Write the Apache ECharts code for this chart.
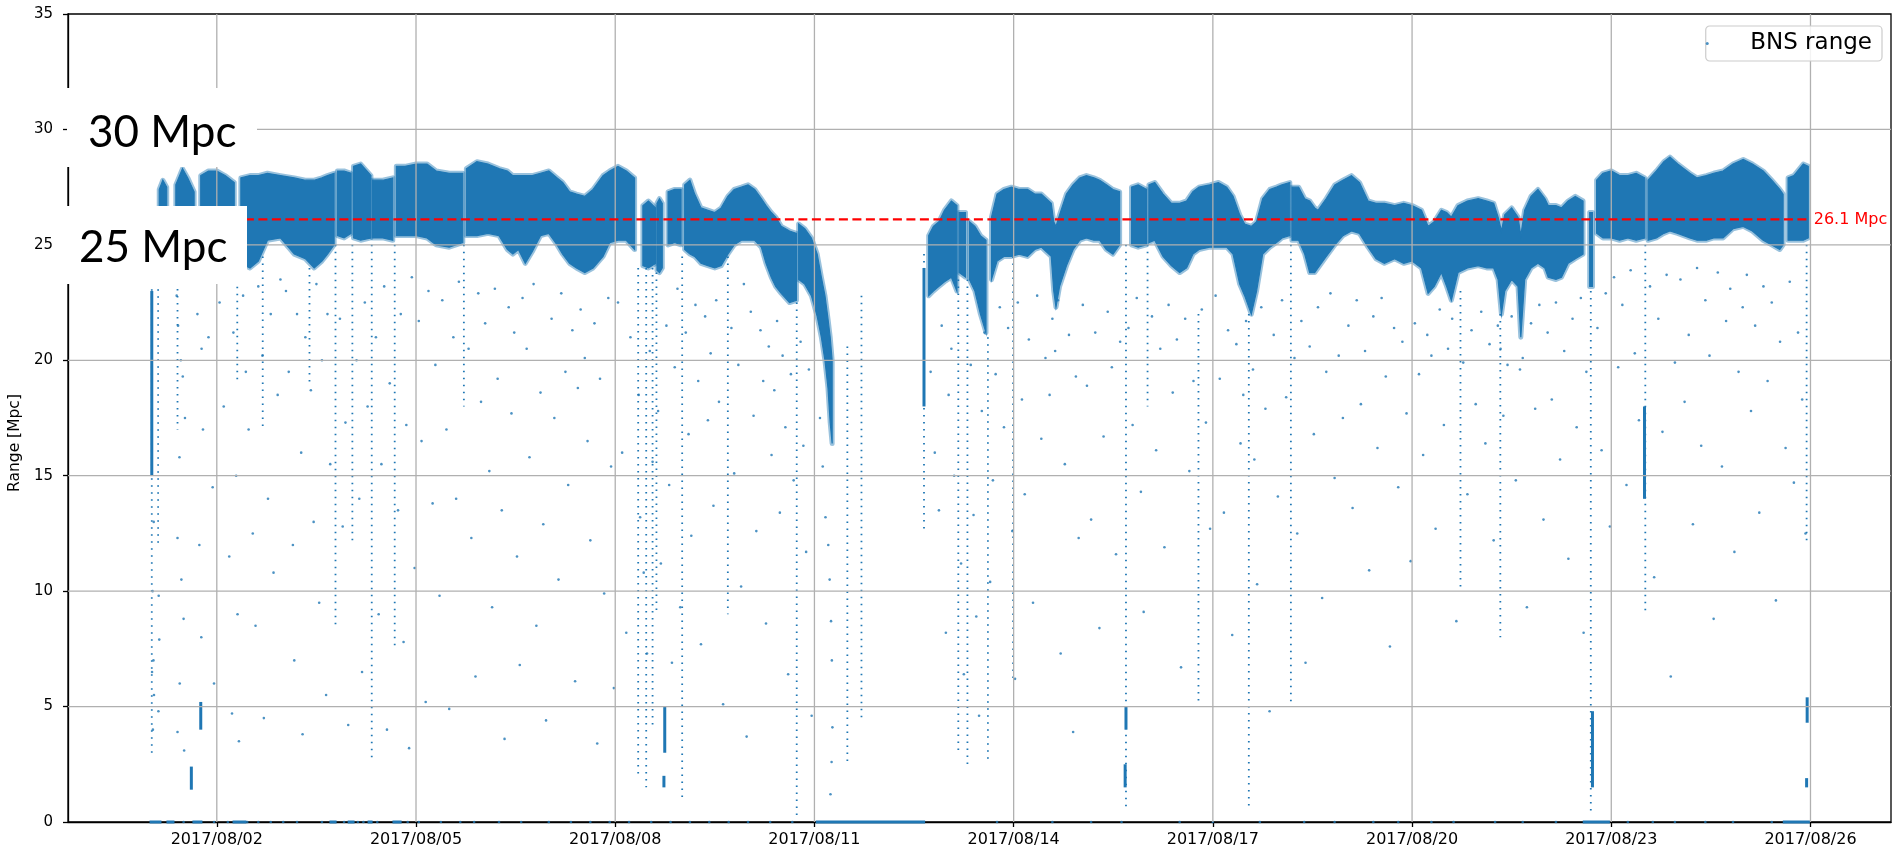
<!DOCTYPE html>
<html>
<head>
<meta charset="utf-8">
<script src="https://cdn.jsdelivr.net/npm/echarts@6/dist/echarts.min.js"></script>
<style>
  html, body { margin: 0; padding: 0; background: #fff; }
  #chart { width: 1893px; height: 848px; }
</style>
</head>
<body>
<div id="chart"></div>
<script>
// x values are hours since 2017/07/31 00:00
const xTickHours  = [48, 120, 192, 264, 336, 408, 480, 552, 624];
const xTickLabels = ['2017/08/02', '2017/08/05', '2017/08/08', '2017/08/11', '2017/08/14',
                     '2017/08/17', '2017/08/20', '2017/08/23', '2017/08/26'];
const yGridValues = [5, 10, 15, 20, 25, 30];

const MEDIAN      = 26.1;
const medianSpan  = [24, 623];

// dense part of the BNS range, per lock segment: [hour, low, high]
const bandSegments = [
  [[27.2, 26.0, 27.4], [28.5, 25.8, 27.8], [29.9, 26.0, 27.5]],
  [[33.2, 25.8, 27.6], [35.6, 25.5, 28.3], [37.5, 25.6, 27.9], [39.8, 26.0, 27.3]],
  [[42.2, 25.2, 28.0], [45, 25.0, 28.2], [48, 25.0, 28.2], [51, 25.0, 28.0], [54.3, 25.3, 27.7]],
  [[56.7, 24.2, 27.9], [60, 24.0, 28.0], [63, 24.3, 28.0], [66.3, 25.2, 28.1], [71, 25.3, 28.0], [76, 24.6, 27.9],
   [80, 24.4, 27.8], [83.2, 24.0, 27.8], [86, 24.3, 27.9], [88, 24.6, 28.0], [90.4, 25.0, 28.1]],
  [[91.6, 25.4, 28.2], [94, 25.3, 28.2], [96.5, 25.5, 28.1]],
  [[97.4, 25.3, 28.4], [100, 25.2, 28.5], [103.7, 25.3, 28.0]],
  [[104.3, 25.3, 27.8], [108, 25.3, 27.8], [111.6, 25.2, 27.9]],
  [[112.9, 25.4, 28.4], [116, 25.4, 28.4], [120.1, 25.4, 28.5], [124, 25.3, 28.5], [127.3, 25.0, 28.2],
   [132, 24.9, 28.1], [136.9, 25.1, 28.1]],
  [[138.2, 25.4, 28.3], [142, 25.4, 28.6], [146, 25.5, 28.5], [150, 25.4, 28.3], [153, 24.8, 28.2], [155, 24.6, 28.0],
   [157, 24.8, 28.0], [159.5, 24.2, 28.0], [162, 24.7, 28.0], [165, 25.4, 28.1], [168, 25.5, 28.2], [171, 25.0, 27.9],
   [173, 24.6, 27.7], [175.5, 24.2, 27.3], [178, 24.0, 27.2], [181, 23.8, 27.1], [184, 24.0, 27.4], [187.6, 24.5, 28.0],
   [190, 25.1, 28.2], [193, 25.2, 28.4], [196, 25.2, 28.2], [199, 24.8, 27.9]],
  [[202, 24.1, 26.7], [204, 24.0, 26.9], [206.6, 24.2, 26.6]],
  [[207.1, 23.9, 26.8], [208, 23.8, 27.0], [209, 24.0, 26.8]],
  [[211.1, 25.0, 27.3], [213.5, 25.1, 27.4], [215.8, 25.0, 27.4]],
  [[217.1, 24.8, 27.6], [219, 24.6, 27.8], [220.7, 24.5, 27.2], [223, 24.2, 26.6], [225.5, 24.1, 26.5], [228, 24.0, 26.4],
   [230.3, 24.1, 26.6], [232.7, 24.6, 27.1], [235, 25.0, 27.4], [237.6, 25.2, 27.5], [240, 25.2, 27.6], [242.4, 25.2, 27.4],
   [244.8, 24.9, 27.0], [246.5, 24.2, 26.7], [248.4, 23.6, 26.4], [250, 23.2, 26.2], [252, 22.9, 25.8], [255, 22.5, 25.6],
   [257.5, 22.6, 25.5]],
  [[258.3, 23.5, 25.9], [260.5, 23.3, 25.7], [262.9, 22.8, 25.3], [265, 21.9, 24.6], [266.5, 21.0, 23.6],
   [267.8, 20.0, 22.8], [268.9, 18.8, 21.8], [269.7, 17.3, 21.0], [270.4, 16.4, 20.0]],
  [[305.3, 22.8, 25.4], [307, 23.0, 25.8], [309, 23.2, 26.0], [311, 23.4, 26.5], [313.5, 23.6, 26.9], [315.5, 23.0, 26.7]],
  [[316.3, 23.8, 26.4], [318.6, 23.6, 26.4]],
  [[320, 23.5, 26.0], [322, 23.0, 25.8], [324, 22.0, 25.4], [326, 21.2, 25.2]],
  [[328, 23.5, 26.2], [330, 24.3, 27.2], [332.5, 24.5, 27.4], [335.2, 24.5, 27.5], [338, 24.6, 27.4], [341, 24.5, 27.4],
   [343.6, 24.8, 27.2], [346, 24.9, 27.2], [349.6, 24.5, 26.8], [350.5, 23.0, 26.0], [351.3, 22.3, 25.8],
   [352.6, 23.2, 26.3], [355.1, 24.1, 27.2], [357.5, 24.8, 27.6], [359.9, 25.2, 27.9], [362.3, 25.3, 28.0],
   [365, 25.2, 27.9], [367.1, 25.2, 27.8], [369.5, 24.8, 27.6], [371.9, 24.6, 27.4], [374.3, 25.0, 27.3]],
  [[378.6, 25.0, 27.5], [381, 24.9, 27.6], [384, 25.0, 27.4]],
  [[384.9, 25.1, 27.6], [387, 25.2, 27.7], [390, 24.5, 27.2], [393, 24.1, 26.8], [396, 23.8, 26.8], [398.5, 24.0, 26.9],
   [400.8, 24.6, 27.3], [403, 24.8, 27.5], [406.9, 24.9, 27.6], [410, 24.9, 27.7], [413, 24.9, 27.5], [415.3, 24.6, 27.1],
   [417.7, 23.3, 26.3], [419.5, 22.8, 25.9], [421.9, 22.0, 25.8], [423.8, 23.0, 26.0], [426, 24.6, 27.0],
   [428.6, 24.9, 27.4], [431, 25.1, 27.5], [433, 25.3, 27.6], [435.8, 25.4, 27.7]],
  [[436.6, 25.2, 27.5], [439, 25.2, 27.5], [441.2, 24.6, 27.0], [443, 23.8, 26.9], [444.8, 23.8, 26.6], [446, 24.0, 26.5],
   [449, 24.5, 27.0], [452.1, 25.0, 27.6], [455, 25.4, 27.8], [458.1, 25.6, 28.0], [461, 25.5, 27.7], [464.1, 24.9, 26.9],
   [467, 24.4, 26.8], [470, 24.2, 26.8], [473.7, 24.4, 26.7], [477, 24.2, 26.8], [480, 24.3, 26.7], [483.4, 24.0, 26.5],
   [485.8, 22.9, 25.8], [488, 23.2, 26.0], [490.6, 23.8, 26.5], [492.5, 23.2, 26.4], [494.2, 22.6, 26.2],
   [496.6, 23.8, 26.7], [500, 24.0, 26.9], [503.9, 24.1, 27.0], [507, 24.0, 26.9], [509.5, 24.0, 26.8],
   [511.1, 23.5, 26.2], [512.3, 22.0, 25.6], [513.5, 23.0, 26.3], [516, 23.5, 26.6], [518.3, 23.2, 26.2],
   [519.3, 21.0, 25.4], [520.7, 23.5, 26.5], [523, 24.0, 27.1], [525.5, 24.2, 27.4], [528, 24.0, 27.0],
   [529.2, 23.6, 26.7], [532, 23.5, 26.7], [534, 23.6, 26.6], [536.4, 24.2, 26.9], [539, 24.4, 27.1], [541.8, 24.6, 26.9]],
  [[544.2, 23.2, 26.4], [545.2, 23.2, 26.4]],
  [[546.7, 25.5, 27.8], [549, 25.3, 28.1], [552, 25.3, 28.2], [555, 25.2, 28.0], [558, 25.3, 28.0], [561, 25.2, 28.1],
   [564.1, 25.3, 27.9]],
  [[565.3, 25.2, 27.8], [568.3, 25.3, 28.2], [571, 25.5, 28.6], [573.2, 25.6, 28.8], [576, 25.5, 28.5], [580.4, 25.3, 28.1],
   [583, 25.2, 27.9], [586.4, 25.2, 28.0], [589, 25.3, 28.1], [592.4, 25.3, 28.2], [596, 25.7, 28.5], [599.7, 25.8, 28.7],
   [603, 25.6, 28.5], [606.9, 25.2, 28.2], [610, 25.0, 27.8], [612.9, 24.8, 27.4], [614.1, 25.0, 27.2]],
  [[615.9, 25.2, 27.9], [618, 25.2, 28.0], [621.4, 25.2, 28.5], [623.2, 25.3, 28.4]]
];

// glitch columns: [hour, top, bottom]
const dottedStreaks = [
  [24.5, 25.5, 3], [26.8, 25.5, 12], [33.8, 24, 17], [55.4, 25, 19], [64.6, 24.5, 17], [81.5, 24, 19],
  [90.9, 25, 8.5], [97.0, 25, 12], [104.0, 25, 2.8], [112.3, 25, 7.5], [137.3, 25, 18], [200.3, 24, 2],
  [203.2, 24, 1.5], [205.5, 24, 4], [206.9, 23.8, 9], [216.2, 24.5, 1], [232.7, 24.5, 9], [257.6, 22.5, 0.3],
  [275.9, 20.6, 2.5], [281.0, 22.8, 4.5], [303.6, 24.6, 12.5], [316.0, 23.5, 3], [319.3, 23.5, 2.5],
  [326.7, 21, 2.5], [335.8, 24.5, 6], [376.6, 25, 0.5], [384.4, 25, 18], [402.8, 22, 5], [421.0, 22, 0.7],
  [436.2, 25, 5], [497.5, 23, 10], [511.9, 22, 8], [544.6, 23, 0.3], [564.3, 25, 9], [622.6, 25, 12]
];
const denseStreaks = [
  [24.5, 23, 15], [42.2, 4.0, 5.2], [38.8, 1.4, 2.4], [209.9, 3.0, 5.0], [209.6, 1.5, 2.0], [376.6, 4.0, 5.0],
  [376.3, 1.5, 2.5], [545.2, 1.5, 4.8], [622.6, 1.5, 1.9], [622.8, 4.3, 5.4], [564.0, 14, 18], [303.6, 18, 24]
];

// stretches where the range sat at 0: [from hour, to hour]
const zeroRuns = [
  [23.7, 28], [29.8, 32.7], [39.2, 42.8], [53.7, 58.7], [88.7, 91.3], [95.3, 97.8], [102.5, 104.3],
  [111.5, 114.8], [264.5, 304], [541.7, 551.5], [614.0, 623.8]
];

// single scattered samples: [hour, range]
const outliers = [
  [33.5, 22.8], [34, 21.5], [35, 20], [35.7, 19.3], [36.5, 17.5], [34.5, 15.8], [33.8, 12.3], [35.2, 10.5],
  [36, 8.8], [34.6, 6], [33.8, 3.9], [36.2, 3.1], [41, 22], [42.5, 20.5], [43, 17], [41.7, 12], [42.4, 8],
  [45, 21], [46.5, 14.5], [47, 6], [25.2, 13], [24.8, 10], [25.1, 7], [24.6, 6.5], [25.3, 5.5], [24.9, 4],
  [27, 9.8], [27.2, 7.9], [26.9, 4.8],
  [49, 22.5], [50.5, 18], [51.5, 24], [52.5, 11.5], [53.5, 4.7], [54, 21.2], [55, 15], [55.5, 9], [56, 3.5],
  [57.5, 22.8], [58.5, 19.5], [59.5, 17], [61, 12.5], [62, 8.5], [63, 23.2], [64.5, 20.2], [65, 4.5],
  [66.5, 14], [67.5, 22], [68.5, 10.8], [70, 18.5], [71, 23.5],
  [73, 23], [74, 19.5], [75.5, 12], [76, 7], [77, 22], [78.5, 16], [79, 3.8], [80, 21], [82, 18.7], [83, 13],
  [84, 23.3], [85, 9.5], [86, 20], [87.5, 5.5], [88, 22], [89, 15.5], [92.5, 21.8], [93.5, 12.8], [94.5, 17.3],
  [95.5, 4.2],
  [98.5, 20], [99.5, 14], [100.5, 6.5], [101.5, 22.5], [102.5, 18], [105.5, 21], [106.5, 9], [107.5, 15.5],
  [108.5, 23.2], [109.5, 4], [110.5, 19], [113.5, 13.5], [114.5, 22], [115.5, 7.8], [116.5, 17.2], [117.5, 3.2],
  [118.5, 23.6], [119.5, 11],
  [121, 21.7], [122, 16.5], [123.5, 5.2], [124.5, 23], [126, 13.8], [127, 19.8], [128.5, 9.8], [129.5, 22.6],
  [131, 17], [132, 4.9], [133.5, 21], [134.5, 14], [135.5, 23.4], [139, 20.5], [140, 12.3], [141.5, 6.3],
  [142.5, 22.9], [143.5, 18.2],
  [145, 21.6], [146.5, 15.2], [147.5, 9.3], [148.5, 23.1], [149.5, 19.2], [151, 13.5], [152, 3.6], [153.5, 22.3],
  [154.5, 17.7], [155.5, 21.2], [156.5, 11.5], [157.5, 6.8], [158.5, 22.7], [160, 20.5], [161, 15.8],
  [162.5, 23.3], [163.5, 8.5], [165, 18.6], [166, 12.9], [167, 4.4],
  [169, 21.8], [170, 17.5], [171.5, 10.5], [172.5, 22.9], [174, 19.5], [175, 14.6], [176.5, 21.3], [177.5, 6.1],
  [178.5, 18.8], [179.5, 22.2], [181, 20.1], [182, 16.5], [183, 12.2], [184.5, 21.6], [185.5, 3.4], [186.5, 19.2],
  [188, 9.9], [189.5, 22.7], [190.5, 15.4], [191.5, 5.8],
  [193, 22.5], [194.5, 16], [196, 8.2], [197.5, 21], [200.5, 18.5], [201, 13.2], [202.3, 10.8], [203.5, 7.3],
  [204.5, 20.4], [205.5, 15.6], [207.5, 17.8], [208.5, 11.2], [210.5, 21.5], [211.5, 14.6], [212.5, 6.9],
  [213.5, 19.7], [214.5, 23.1], [215.5, 9.3],
  [217.5, 21.2], [218.5, 16.8], [219.5, 12.4], [221, 22.4], [222, 19.1], [223, 7.7], [224.5, 21.9], [225.5, 17.4],
  [226.5, 20.3], [227.5, 13.7], [228.5, 22.6], [229.5, 18.2], [231, 5.1], [234, 21.4], [235, 15.1], [236.5, 19.8],
  [237.5, 10.2], [238.5, 23.3], [239.5, 3.7],
  [241, 22.1], [242, 17.6], [243, 12.6], [244.5, 21.3], [245.5, 19.1], [246.5, 8.6], [247.5, 20.6], [248.5, 15.9],
  [249.5, 18.7], [250.5, 21.7], [251.5, 13.4], [252.5, 20.2], [253.5, 17.1], [254.5, 6.4], [255.5, 19.4],
  [256.5, 14.8], [259, 20.8], [260, 16.3], [261, 11.7], [262, 19.6], [263, 4.6],
  [266, 17.5], [267, 15.4], [268, 13.2], [269, 12], [269.5, 10.5], [270, 8.7], [270.3, 7], [270.5, 4.1],
  [270.2, 2.6], [269.8, 1.2],
  [306, 19.5], [307.5, 16], [309, 13.5], [310, 21.5], [311.5, 8.2], [312.5, 18.5],
  [313.5, 20.5], [314.5, 15], [317, 11.2], [318, 6.4], [320.5, 19.8], [321.5, 13.3], [322.5, 8.9], [323.5, 4.6],
  [324.5, 17.8], [325.5, 21.2], [327.5, 10.4], [328.5, 14.8], [329.5, 19.4], [331, 22.3], [332.5, 17.1],
  [334, 21.4], [335.5, 12.6], [336.5, 6.2],
  [337.5, 22.5], [339, 18.3], [340, 14.2], [341.5, 20.9], [343, 9.5], [344.5, 22.8], [346, 16.6], [347.5, 20.1],
  [349, 18.5], [350, 21.8], [351, 20.4], [352, 22.6], [353, 7.3], [354.5, 15.5], [356, 21.1], [357.5, 3.9],
  [358.5, 19.3], [359.5, 12.3],
  [361, 22.4], [362.5, 18.9], [364, 13.1], [365.5, 21.2], [367, 8.4], [368.5, 16.7], [370, 22.1], [371.5, 19.7],
  [373, 11.6], [374.5, 20.8], [377.5, 21.4], [379, 17.2], [380.5, 22.7], [382, 14.3], [383, 9.1],
  [386, 21.9], [387.5, 16.1], [389, 20.5], [390.5, 11.9], [392, 22.4], [393.5, 18.6], [395, 20.9], [396.5, 6.7],
  [398, 21.8], [399.5, 15.2], [401, 19.1], [404, 22.2], [405.5, 17.3], [407, 12.7],
  [409, 22.8], [410.5, 19.2], [412, 13.4], [413.5, 21.3], [415, 8.1], [416.5, 20.7], [418, 16.4], [419, 18.5],
  [420, 21.7], [422.5, 19.6], [423, 15.7], [424, 10.3], [425.5, 22.3], [427, 17.9], [428.5, 4.8], [430, 21.1],
  [431.5, 14.1],
  [433, 22.6], [434.5, 18.4], [437.5, 20.1], [438.5, 12.5], [440, 21.7], [441.5, 6.9], [443, 20.6], [444.5, 16.8],
  [446, 22.3], [447.5, 9.7], [449, 19.5], [450.5, 22.9], [452, 14.9], [453.5, 20.2], [455, 17.5],
  [457, 21.5], [458.5, 13.6], [460, 22.6], [461.5, 18.1], [463, 20.4], [464.5, 10.9], [466, 21.9], [467.5, 16.2],
  [469, 22.7], [470.5, 19.3], [472, 7.6], [473.5, 21.4], [475, 14.5], [476.5, 20.8], [478, 17.7], [479.5, 11.3],
  [481, 21.6], [482.5, 19.4], [484, 15.9], [485.5, 21.1], [487, 20.2], [488.5, 12.7], [490, 22.2], [491.5, 17.2],
  [493, 20.5], [494.5, 21.8], [496, 8.7], [498.5, 19.9], [500, 14.2], [501.5, 21.3], [503, 18.1],
  [505, 22.1], [506.5, 16.4], [508, 20.7], [509.5, 12.2], [511, 21.5], [512, 20.5], [513, 17.6], [514.5, 19.8],
  [516, 21.9], [517.5, 14.8], [519, 19.6], [520, 20.1], [521.5, 9.3], [523, 21.6], [524.5, 17.9], [526, 22.4],
  [527.5, 13.1],
  [529, 21.2], [530.5, 18.3], [532, 22.5], [533.5, 15.7], [535, 20.4], [536.5, 11.4], [538, 21.8], [539.5, 17.1],
  [541, 22.7], [542, 8.2], [543, 19.5], [547, 21.4], [548.5, 16.1], [550, 22.9], [551.5, 12.8],
  [553, 23.6], [554.5, 19.7], [556, 22.4], [557.5, 14.6], [559, 23.9], [560.5, 20.3], [562, 17.4], [566, 23.2],
  [567.5, 10.6], [569, 21.8], [570.5, 16.9], [572, 23.7], [573.5, 6.3], [575, 19.9],
  [577, 23.5], [578.5, 18.2], [580, 21.1], [581.5, 12.9], [583, 24.0], [584.5, 16.3], [586, 22.6], [587.5, 20.2],
  [589, 8.8], [590.5, 23.8], [592, 15.4], [593.5, 21.7], [595, 23.1], [596.5, 11.7], [598, 19.5], [599.5, 22.3],
  [601, 23.7], [602.5, 17.8], [604, 21.5], [605.5, 13.4], [607, 23.2], [608.5, 19.1], [610, 22.5], [611.5, 9.6],
  [613, 20.8], [615, 16.2], [616.5, 23.4], [618, 14.7], [619.5, 21.2], [621, 18.3], [622.2, 12.5]
];
const zeroHours = [36, 47, 52, 59, 63, 67.5, 72, 77, 86, 94, 99, 101, 106, 117, 121, 129, 136, 141, 150, 158,
  168, 176, 183, 190, 197, 205, 212, 219, 226, 233, 240, 248, 256, 330, 350, 364, 375, 396, 408, 425, 441, 452,
  466, 475, 487, 495, 510, 520, 532, 558, 567, 575, 586, 596, 610];

const BLUE = '#1f77b4';
const FONT = 'DejaVu Sans';

const chart = echarts.init(document.getElementById('chart'), null, { renderer: 'canvas' });

// one polygon per lock segment, top edge forward then bottom edge back
function renderBand(params, api) {
  const seg = bandSegments[params.dataIndex];
  const top = seg.map((p) => api.coord([p[0], p[2]]));
  const bot = seg.slice().reverse().map((p) => api.coord([p[0], p[1]]));
  return {
    type: 'group',
    children: [
      { type: 'polygon', shape: { points: top.concat(bot) },
        style: { fill: 'none', stroke: 'rgba(31,119,180,0.45)', lineWidth: 5, lineJoin: 'round' } },
      { type: 'polygon', shape: { points: top.concat(bot) },
        style: { fill: BLUE, stroke: BLUE, lineWidth: 1.2 } },
    ],
  };
}

function vLine(list, style) {
  return (params, api) => {
    const d = list[params.dataIndex];
    const a = api.coord([d[0], d[1]]);
    const b = api.coord([d[0], d[2]]);
    return { type: 'line', shape: { x1: a[0], y1: a[1], x2: b[0], y2: b[1] }, style };
  };
}

function renderZero(params, api) {
  const d = zeroRuns[params.dataIndex];
  const a = api.coord([d[0], 0]);
  const b = api.coord([d[1], 0]);
  return { type: 'line', shape: { x1: a[0], y1: a[1], x2: b[0], y2: b[1] },
           style: { stroke: BLUE, lineWidth: 3 } };
}

function renderGridX(params, api) {
  const cs = params.coordSys;
  const x = api.coord([xTickHours[params.dataIndex], 0])[0];
  return { type: 'line', shape: { x1: x, y1: cs.y, x2: x, y2: cs.y + cs.height },
           style: { stroke: '#b0b0b0', lineWidth: 1.3 } };
}

function renderGridY(params, api) {
  const cs = params.coordSys;
  const y = api.coord([0, yGridValues[params.dataIndex]])[1];
  return { type: 'line', shape: { x1: cs.x, y1: y, x2: cs.x + cs.width, y2: y },
           style: { stroke: '#b0b0b0', lineWidth: 1.3 } };
}

const option = {
  backgroundColor: '#fff',
  animation: false,
  textStyle: { fontFamily: FONT },
  grid: { left: 68, right: 2, top: 14, bottom: 26, show: true, borderColor: '#000', borderWidth: 1.3,
          outerBoundsMode: 'none' },
  legend: {
    data: ['BNS range'], right: 11, top: 26, icon: 'circle', itemWidth: 66, itemHeight: 3,
    padding: [6, 10, 6, 0], borderColor: '#cccccc', borderWidth: 1.2, borderRadius: 4,
    backgroundColor: 'rgba(255,255,255,0.85)',
    textStyle: { fontSize: 23, color: '#000', fontFamily: FONT, padding: [0, 0, 0, 5] },
  },
  xAxis: {
    type: 'value', min: -5.78, max: 653.1,
    axisLine: { onZero: false, lineStyle: { color: '#000', width: 1.3 } },
    axisTick: { customValues: xTickHours, length: 5, lineStyle: { color: '#000', width: 1.3 } },
    axisLabel: { customValues: xTickHours, color: '#000', fontSize: 16, margin: 10,
                 formatter: (v) => xTickLabels[xTickHours.indexOf(v)] || '' },
    splitLine: { show: false },
  },
  yAxis: {
    type: 'value', min: 0, max: 35, interval: 5,
    name: 'Range [Mpc]', nameLocation: 'middle', nameGap: 44,
    nameTextStyle: { fontSize: 15.5, color: '#000', padding: [0, 50, 0, 0] },
    axisLine: { show: true, onZero: false, lineStyle: { color: '#000', width: 1.3 } },
    axisTick: { show: true, length: 5, lineStyle: { color: '#000', width: 1.3 } },
    axisLabel: { color: '#000', fontSize: 15, margin: 15 },
    splitLine: { show: false },
  },
  series: [
    {
      type: 'custom', name: 'band', silent: true, z: 2,
      data: bandSegments.map((s) => [s[0][0], s[0][1]]),
      renderItem: renderBand,
    },
    {
      type: 'custom', name: 'streaks', silent: true, z: 2,
      data: dottedStreaks.map((d) => [d[0], d[1]]),
      renderItem: vLine(dottedStreaks, { stroke: BLUE, lineWidth: 1.8, lineDash: [1.5, 5.5] }),
    },
    {
      type: 'custom', name: 'dense', silent: true, z: 2,
      data: denseStreaks.map((d) => [d[0], d[1]]),
      renderItem: vLine(denseStreaks, { stroke: BLUE, lineWidth: 3 }),
    },
    {
      type: 'custom', name: 'zero', silent: true, z: 2,
      data: zeroRuns.map((d) => [d[0], 0]),
      renderItem: renderZero,
    },
    {
      type: 'scatter', name: 'BNS range', silent: true, z: 2,
      symbol: 'circle', symbolSize: 2.6,
      itemStyle: { color: BLUE },
      data: outliers.concat(zeroHours.map((h) => [h, 0])),
    },
    {
      type: 'custom', name: 'gridX', silent: true, z: 3,
      data: xTickHours.map((h) => [h, 0]),
      renderItem: renderGridX,
    },
    {
      type: 'custom', name: 'gridY', silent: true, z: 3,
      data: yGridValues.map((v) => [0, v]),
      renderItem: renderGridY,
    },
    {
      type: 'line', name: 'median', silent: true, z: 4,
      data: [[medianSpan[0], MEDIAN], [medianSpan[1], MEDIAN]],
      symbol: 'none',
      lineStyle: { color: '#ff0000', width: 2.2, type: [9, 4.5] },
      endLabel: { show: true, formatter: MEDIAN + ' Mpc', color: '#ff0000', fontSize: 16, distance: 6 },
    },
  ],
  graphic: [
    { type: 'rect', z: 100, shape: { x: 67, y: 88, width: 190, height: 79 }, style: { fill: '#fff' } },
    { type: 'text', z: 101, x: 88, y: 133,
      style: { text: '30 Mpc', font: '44px Lato', fill: '#000', verticalAlign: 'middle' } },
    { type: 'rect', z: 100, shape: { x: 60, y: 206, width: 187, height: 78 }, style: { fill: '#fff' } },
    { type: 'text', z: 101, x: 79, y: 248,
      style: { text: '25 Mpc', font: '44px Lato', fill: '#000', verticalAlign: 'middle' } },
  ],
};

chart.setOption(option);
</script>
</body>
</html>
